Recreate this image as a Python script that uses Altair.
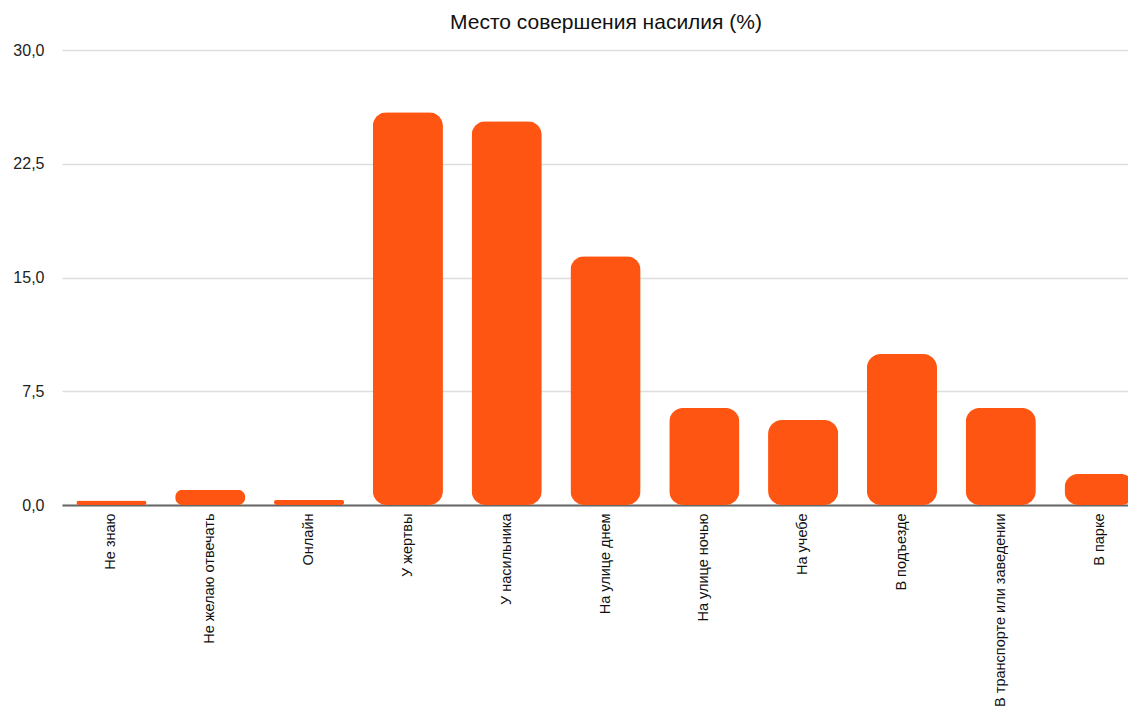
import altair as alt
import pandas as pd

categories = [
    "Не знаю", "Не желаю отвечать", "Онлайн", "У жертвы", "У насильника",
    "На улице днем", "На улице ночью", "На учебе", "В подъезде",
    "В транспорте или заведении", "В парке",
]
values = [0.3, 1.0, 0.35, 25.9, 25.3, 16.4, 6.4, 5.6, 9.95, 6.4, 2.05]
y_ticks = [0, 7.5, 15, 22.5, 30]

df = pd.DataFrame({"place": categories, "pct": values})

FONT = "Liberation Sans"

chart = alt.Chart(df).mark_bar(
    color="#FF5513", cornerRadius=14
).encode(
    x=alt.X(
        "place:N", sort=None, title=None,
        scale=alt.Scale(paddingInner=0.29, paddingOuter=0.145, range=[0, 1087]),
        axis=alt.Axis(
            labelAngle=-90, labelFont=FONT, labelFontSize=14.5, labelColor="#111",
            labelPadding=8, ticks=False, domainColor="#666", domainWidth=2,
            grid=False, labelLimit=400,
        ),
    ),
    y=alt.Y(
        "pct:Q", title=None,
        scale=alt.Scale(domain=[0, 30], nice=False),
        axis=alt.Axis(
            values=y_ticks, domain=False, ticks=False, grid=True,
            gridColor="#dddddd", gridWidth=1.5,
            labelFont=FONT, labelFontSize=16, labelColor="#222", labelPadding=18,
            labelExpr="replace(format(datum.value, '.1f'), '.', ',')",
        ),
    ),
).properties(
    width=1066,
    height=455,
    title=alt.TitleParams(
        "Место совершения насилия (%)", font=FONT, fontSize=21,
        fontWeight="normal", color="#111", offset=9, anchor="middle", dx=11,
    ),
    autosize=alt.AutoSizeParams(type="none"),
    padding={"left": 54, "top": 42, "right": 0, "bottom": 204},
).configure_view(stroke=None)

chart.save("out.html", embed_options={"renderer": "svg", "actions": False})
